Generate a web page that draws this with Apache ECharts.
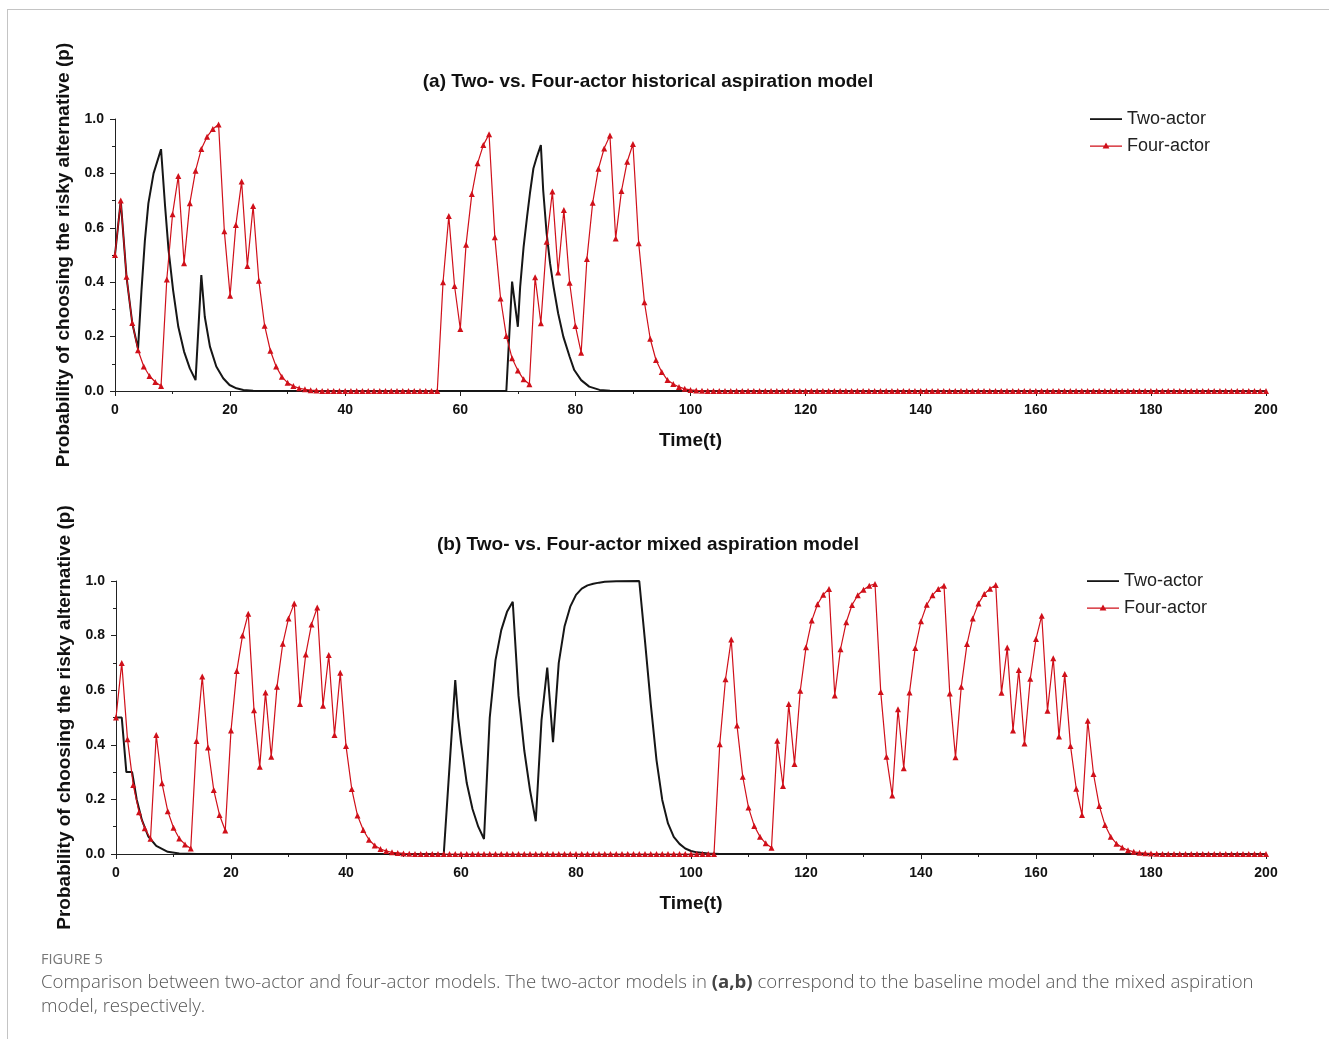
<!DOCTYPE html>
<html>
<head>
<meta charset="utf-8">
<script src="https://cdn.jsdelivr.net/npm/echarts@6/dist/echarts.min.js"></script>
<style>
    body { margin: 0; background: #fff; }
    #main { position: absolute; left: 0; top: 0; width: 1329px; height: 1039px; }
    .frame { position: absolute; left: 7px; top: 9px; width: 1330px; height: 1040px;
             border-left: 1px solid #c4c4c4; border-top: 1px solid #c4c4c4; }
    .figno { position: absolute; left: 41px; top: 949px; font-family: "Open Sans", sans-serif;
             font-size: 14.5px; color: #777; }
    .caption { position: absolute; left: 41px; top: 969px; width: 1280px; font-family: "Open Sans", sans-serif;
               font-size: 18.6px; line-height: 24px; color: #555; font-weight: 300; }
    .caption b { font-weight: 700; color: #444; }
</style>
</head>
<body>
<div class="frame"></div>
<div id="main"></div>
<div class="figno">FIGURE 5</div>
<div class="caption">Comparison between two-actor and four-actor models. The two-actor models in <b>(a,b)</b> correspond to the baseline model and the mixed aspiration<br>model, respectively.</div>

<script>
// panel (a): four-actor, one value per time step t = 0..200
var fourA = [
    0.50, 0.70, 0.42, 0.25, 0.15, 0.09, 0.055, 0.033, 0.018, 0.41,
    0.65, 0.79, 0.47, 0.69, 0.81, 0.89, 0.935, 0.963, 0.98, 0.587,
    0.35, 0.61, 0.77, 0.46, 0.68, 0.405, 0.24, 0.148, 0.09, 0.052,
    0.03, 0.018, 0.01, 0.006, 0.003, 0.002, 0, 0, 0, 0,
    0, 0, 0, 0, 0, 0, 0, 0, 0, 0,
    0, 0, 0, 0, 0, 0, 0, 0.40, 0.643, 0.386,
    0.228, 0.538, 0.724, 0.837, 0.904, 0.944, 0.565, 0.34, 0.202, 0.12,
    0.075, 0.043, 0.025, 0.418, 0.249, 0.549, 0.733, 0.436, 0.665, 0.398,
    0.239, 0.141, 0.485, 0.692, 0.817, 0.892, 0.939, 0.561, 0.735, 0.843,
    0.908, 0.543, 0.326, 0.192, 0.114, 0.07, 0.04, 0.026, 0.015, 0.008,
    0.004, 0.002, 0.001, 0, 0, 0, 0, 0, 0, 0,
    0, 0, 0, 0, 0, 0, 0, 0, 0, 0,
    0, 0, 0, 0, 0, 0, 0, 0, 0, 0,
    0, 0, 0, 0, 0, 0, 0, 0, 0, 0,
    0, 0, 0, 0, 0, 0, 0, 0, 0, 0,
    0, 0, 0, 0, 0, 0, 0, 0, 0, 0,
    0, 0, 0, 0, 0, 0, 0, 0, 0, 0,
    0, 0, 0, 0, 0, 0, 0, 0, 0, 0,
    0, 0, 0, 0, 0, 0, 0, 0, 0, 0,
    0, 0, 0, 0, 0, 0, 0, 0, 0, 0,
    0
];

// panel (a): two-actor, [t, p]
var twoA = [
    [0, 0.5], [1, 0.7], [2, 0.42], [3, 0.25], [4, 0.155], [4.6, 0.37], [5.2, 0.555], [5.8, 0.69],
    [6.7, 0.80], [8, 0.889], [8.7, 0.68], [9.3, 0.52], [10.1, 0.37], [11, 0.236], [12, 0.145],
    [13, 0.083], [14, 0.04], [15, 0.426], [15.6, 0.273], [16.5, 0.163], [17.6, 0.09], [18.8, 0.047],
    [19.9, 0.022], [21.1, 0.01], [22.3, 0.004], [24, 0.001], [26, 0],
    [68, 0], [69, 0.402], [70, 0.236], [70.4, 0.383], [71, 0.53], [71.6, 0.64], [72.1, 0.727],
    [72.7, 0.818], [73.3, 0.861], [74, 0.904], [74.4, 0.739], [75, 0.58], [75.6, 0.469], [76.2, 0.384],
    [77, 0.286], [77.9, 0.2], [79, 0.126], [79.8, 0.077], [81, 0.04], [82.4, 0.016], [84.2, 0.004],
    [86, 0.001], [90, 0], [200, 0]
];

// panel (b): four-actor, t = 0..200
var fourB = [
    0.50, 0.70, 0.42, 0.253, 0.153, 0.094, 0.056, 0.436, 0.259, 0.157,
    0.096, 0.057, 0.035, 0.02, 0.414, 0.65, 0.39, 0.234, 0.143, 0.086,
    0.452, 0.67, 0.80, 0.88, 0.527, 0.32, 0.592, 0.356, 0.613, 0.77,
    0.863, 0.918, 0.549, 0.731, 0.841, 0.903, 0.543, 0.729, 0.436, 0.664,
    0.396, 0.238, 0.141, 0.088, 0.052, 0.031, 0.018, 0.011, 0.006, 0.004,
    0.002, 0.001, 0, 0, 0, 0, 0, 0, 0, 0,
    0, 0, 0, 0, 0, 0, 0, 0, 0, 0,
    0, 0, 0, 0, 0, 0, 0, 0, 0, 0,
    0, 0, 0, 0, 0, 0, 0, 0, 0, 0,
    0, 0, 0, 0, 0, 0, 0, 0, 0, 0,
    0, 0, 0, 0, 0, 0.402, 0.64, 0.786, 0.471, 0.283,
    0.17, 0.103, 0.063, 0.039, 0.023, 0.415, 0.249, 0.549, 0.33, 0.598,
    0.757, 0.855, 0.915, 0.95, 0.971, 0.581, 0.75, 0.849, 0.912, 0.948,
    0.968, 0.983, 0.989, 0.593, 0.356, 0.214, 0.53, 0.314, 0.592, 0.755,
    0.853, 0.913, 0.948, 0.971, 0.983, 0.588, 0.354, 0.613, 0.769, 0.863,
    0.918, 0.952, 0.972, 0.985, 0.591, 0.756, 0.452, 0.674, 0.405, 0.642,
    0.788, 0.873, 0.525, 0.717, 0.43, 0.659, 0.396, 0.239, 0.143, 0.488,
    0.293, 0.176, 0.106, 0.063, 0.038, 0.024, 0.014, 0.008, 0.005, 0.003,
    0.002, 0.001, 0, 0, 0, 0, 0, 0, 0, 0,
    0, 0, 0, 0, 0, 0, 0, 0, 0, 0,
    0
];

// panel (b): two-actor, [t, p]
var twoB = [
    [0, 0.5], [1, 0.5], [1.8, 0.3], [2.8, 0.3], [3.2, 0.25], [3.6, 0.2], [4.5, 0.125], [5.6, 0.065],
    [7, 0.03], [9, 0.008], [11, 0.002], [14, 0],
    [57, 0], [58, 0.32], [59, 0.637], [59.5, 0.5], [60, 0.41], [61, 0.26], [62, 0.165], [63, 0.1],
    [64, 0.055], [65, 0.50], [66, 0.71], [67, 0.82], [68, 0.887], [69, 0.924], [70, 0.58], [71, 0.38],
    [72, 0.234], [73, 0.12], [74, 0.49], [75, 0.683], [76, 0.41], [77, 0.70], [78, 0.833], [79, 0.906],
    [80, 0.949], [81, 0.972], [82, 0.984], [83, 0.99], [84, 0.994], [85, 0.997], [87, 0.999], [91, 1.0],
    [92, 0.78], [93, 0.55], [94, 0.344], [95, 0.198], [96, 0.112], [97, 0.063], [98, 0.037], [99, 0.02],
    [100, 0.011], [101, 0.006], [103, 0.002], [105, 0], [200, 0]
];

var titleA = '(a) Two- vs. Four-actor historical aspiration model';
var titleB = '(b) Two- vs. Four-actor mixed aspiration model';
var yName = 'Probability of choosing the risky alternative (p)';
var xName = 'Time(t)';

var RED = '#d0101a';
var BLACK = '#161616';
var FONT = '"Liberation Sans", Arial, sans-serif';

// legend icons drawn in a 32x14 box: plain line, and line with a small triangle
var ICON_LINE = 'path://M0,0 L0,0 M0,6.2 L32,6.2 L32,8 L0,8 Z M32,14 L32,14';
var ICON_TRI = 'path://M0,0 L0,0 M0,6.5 L32,6.5 L32,7.7 L0,7.7 Z M16,3.6 L19.4,9.4 L12.6,9.4 Z M32,14 L32,14';

function withIndex(arr) {
    var out = [];
    for (var i = 0; i < arr.length; i++) out.push([i, arr[i]]);
    return out;
}

function xAxisFor(grid) {
    return {
        gridIndex: grid, type: 'value', min: 0, max: 200, interval: 20,
        name: xName, nameLocation: 'middle', nameGap: 40,
        nameTextStyle: { fontFamily: FONT, fontSize: 19, fontWeight: 'bold', color: '#111' },
        axisLine: { onZero: false, lineStyle: { color: '#222', width: 1 } },
        axisTick: { inside: false, length: 5, lineStyle: { color: '#222' } },
        minorTick: { show: true, splitNumber: 2, length: 3, lineStyle: { color: '#222' } },
        axisLabel: { margin: 12, fontFamily: FONT, fontSize: 14, fontWeight: 'bold', color: '#111' },
        splitLine: { show: false }
    };
}

function yAxisFor(grid) {
    return {
        gridIndex: grid, type: 'value', min: 0, max: 1, interval: 0.2,
        name: yName, nameLocation: 'middle', nameGap: 37, nameRotate: 90,
        nameTextStyle: { fontFamily: FONT, fontSize: 19, fontWeight: 'bold', color: '#111' },
        axisLine: { show: true, lineStyle: { color: '#222', width: 1 } },
        axisTick: { show: true, inside: false, length: 5, lineStyle: { color: '#222' } },
        minorTick: { show: true, splitNumber: 2, length: 3, lineStyle: { color: '#222' } },
        axisLabel: { margin: 11, fontFamily: FONT, fontSize: 14, fontWeight: 'bold', color: '#111',
                     formatter: function (v) { return v.toFixed(1); } },
        splitLine: { show: false }
    };
}

function twoSeries(name, grid, data) {
    return {
        name: name, type: 'line', xAxisIndex: grid, yAxisIndex: grid,
        data: data, symbol: 'none', lineStyle: { color: BLACK, width: 2 },
        itemStyle: { color: BLACK }
    };
}

function fourSeries(name, grid, data) {
    return {
        name: name, type: 'line', xAxisIndex: grid, yAxisIndex: grid,
        data: withIndex(data), symbol: 'triangle', symbolSize: 6,
        lineStyle: { color: RED, width: 1.2 }, itemStyle: { color: RED }
    };
}

function legendFor(suffix, left, top) {
    return {
        data: [
            { name: 'Two-actor' + suffix, icon: ICON_LINE },
            { name: 'Four-actor' + suffix, icon: ICON_TRI }
        ],
        orient: 'vertical', left: left, top: top,
        itemWidth: 32, itemHeight: 14, itemGap: 9, padding: 0,
        textStyle: { fontFamily: FONT, fontSize: 18, color: '#222' }
    };
}

var chart = echarts.init(document.getElementById('main'));
chart.setOption({
    animation: false,
    backgroundColor: 'transparent',
    title: [
        { text: titleA, left: 648, top: 72, textAlign: 'center', padding: 0,
          textStyle: { fontFamily: FONT, fontSize: 19, fontWeight: 'bold', color: '#111' } },
        { text: titleB, left: 648, top: 535, textAlign: 'center', padding: 0,
          textStyle: { fontFamily: FONT, fontSize: 19, fontWeight: 'bold', color: '#111' } }
    ],
    legend: [legendFor('', 1090, 110), legendFor(' ', 1087, 572)],
    grid: [
        { left: 115, top: 119, width: 1151, height: 272 },
        { left: 116, top: 581, width: 1150, height: 273 }
    ],
    xAxis: [xAxisFor(0), xAxisFor(1)],
    yAxis: [yAxisFor(0), yAxisFor(1)],
    series: [
        twoSeries('Two-actor', 0, twoA),
        fourSeries('Four-actor', 0, fourA),
        twoSeries('Two-actor ', 1, twoB),
        fourSeries('Four-actor ', 1, fourB)
    ]
});
</script>
</body>
</html>
